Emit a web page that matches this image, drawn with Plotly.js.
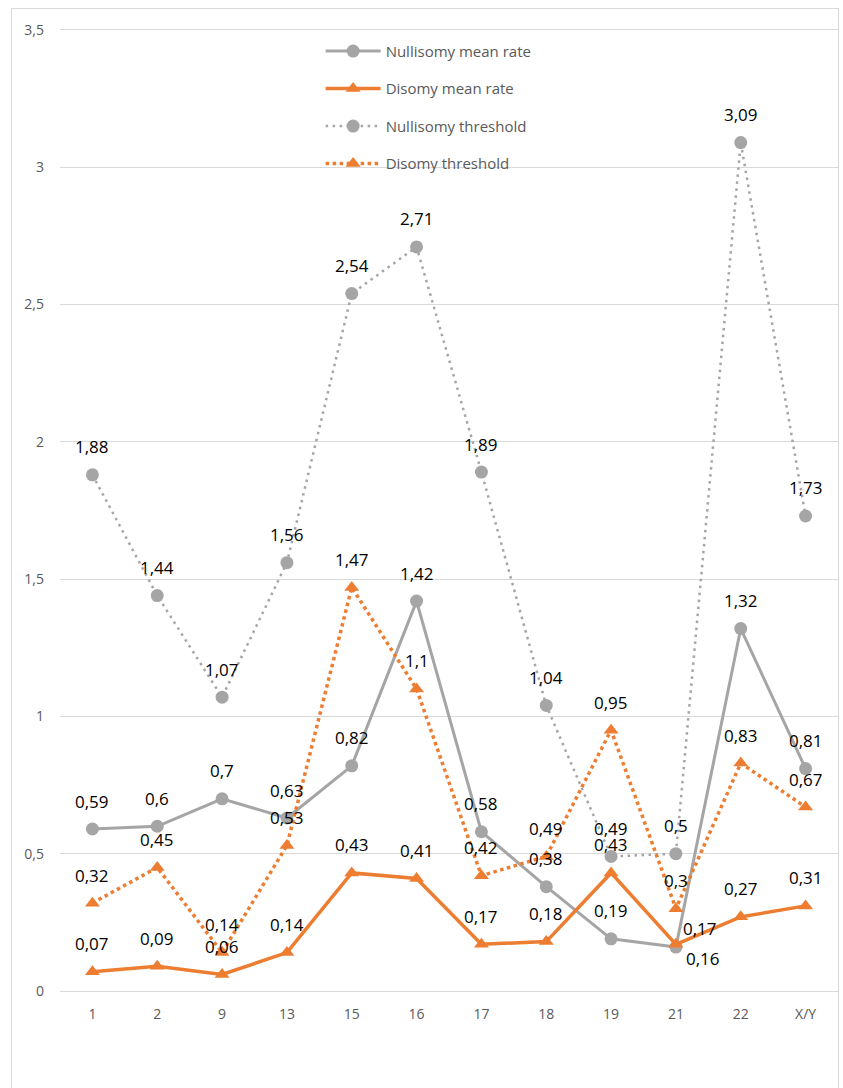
<!DOCTYPE html>
<html>
<head>
<meta charset="utf-8">
<script src="https://cdn.plot.ly/plotly-3.0.1.min.js"></script>
<style>
  html, body { margin: 0; padding: 0; background: #ffffff; }
  #frame { position: absolute; left: 11px; top: 8px; width: 826px; height: 1100px; border: 1px solid #d9d9d9; }
  #chart { position: absolute; left: 0; top: 0; width: 843px; height: 1088px; }
</style>
</head>
<body>
<div id="frame"></div>
<div id="chart"></div>
<script>
const categories = ['1', '2', '9', '13', '15', '16', '17', '18', '19', '21', '22', 'X/Y'];
const nullisomyMean = [0.59, 0.6, 0.7, 0.63, 0.82, 1.42, 0.58, 0.38, 0.19, 0.16, 1.32, 0.81];
const disomyMean = [0.07, 0.09, 0.06, 0.14, 0.43, 0.41, 0.17, 0.18, 0.43, 0.17, 0.27, 0.31];
const nullisomyThreshold = [1.88, 1.44, 1.07, 1.56, 2.54, 2.71, 1.89, 1.04, 0.49, 0.5, 3.09, 1.73];
const disomyThreshold = [0.32, 0.45, 0.14, 0.53, 1.47, 1.1, 0.42, 0.49, 0.95, 0.3, 0.83, 0.67];
const seriesNames = ['Nullisomy mean rate', 'Disomy mean rate', 'Nullisomy threshold', 'Disomy threshold'];

const GRAY = '#a5a5a5';
const ORANGE = '#ed7d31';

const seriesDefs = [
  { y: nullisomyMean, color: GRAY, symbol: 'circle', dash: 'solid', width: 3 },
  { y: disomyMean, color: ORANGE, symbol: 'triangle-up', dash: 'solid', width: 3.5 },
  { y: nullisomyThreshold, color: GRAY, symbol: 'circle', dash: '2.5px,4.5px', width: 2.5 },
  { y: disomyThreshold, color: ORANGE, symbol: 'triangle-up', dash: '3.5px,3.5px', width: 3.5 }
];

const traces = seriesDefs.map((s, i) => ({
  type: 'scatter',
  mode: 'lines+markers',
  name: seriesNames[i],
  legendgroup: 'g' + i,
  x: categories,
  y: s.y,
  line: { color: s.color, width: s.width, dash: s.dash },
  marker: { color: s.color, symbol: s.symbol, size: 13 },
  cliponaxis: false,
  hoverinfo: 'skip'
}));

const fmt = v => String(v).replace('.', ',');
const annotations = [];
seriesDefs.forEach((s, si) => {
  s.y.forEach((v, i) => {
    let xs = 0, ys = 28;
    if (categories[i] === '21' && si === 0) { xs = 27; ys = -11; }
    if (categories[i] === '21' && si === 1) { xs = 24; ys = 16; }
    annotations.push({
      x: i, y: v, xref: 'x', yref: 'y',
      text: fmt(v), showarrow: false,
      xshift: xs, yshift: ys,
      font: { family: 'Open Sans, sans-serif', size: 17, color: '#000000' }
    });
  });
});

const layout = {
  width: 843, height: 1088,
  margin: { l: 60, r: 5, t: 30, b: 97 },
  paper_bgcolor: 'rgba(0,0,0,0)',
  plot_bgcolor: 'rgba(0,0,0,0)',
  separators: ', ',
  showlegend: true,
  legend: {
    x: 0.335, y: 0.995, xanchor: 'left', yanchor: 'top',
    bgcolor: 'rgba(0,0,0,0)',
    traceorder: 'grouped',
    tracegroupgap: 15,
    itemwidth: 55,
    font: { family: 'Open Sans, sans-serif', size: 15, color: '#595959' }
  },
  xaxis: {
    type: 'category',
    range: [-0.5, categories.length - 0.5],
    showgrid: false,
    showline: true, mirror: true, linecolor: '#d9d9d9', linewidth: 1,
    ticks: '',
    ticklabelstandoff: 10,
    tickfont: { family: 'Open Sans, sans-serif', size: 14, color: '#595959' },
    zeroline: false
  },
  yaxis: {
    range: [0, 3.5],
    dtick: 0.5, tick0: 0,
    showgrid: true, gridcolor: '#d9d9d9', gridwidth: 1,
    zeroline: false,
    showline: false,
    ticks: '',
    ticklabelstandoff: 15,
    tickfont: { family: 'Open Sans, sans-serif', size: 14, color: '#595959' }
  },
  annotations: annotations
};

Plotly.newPlot('chart', traces, layout, { staticPlot: true, displayModeBar: false });
</script>
</body>
</html>
